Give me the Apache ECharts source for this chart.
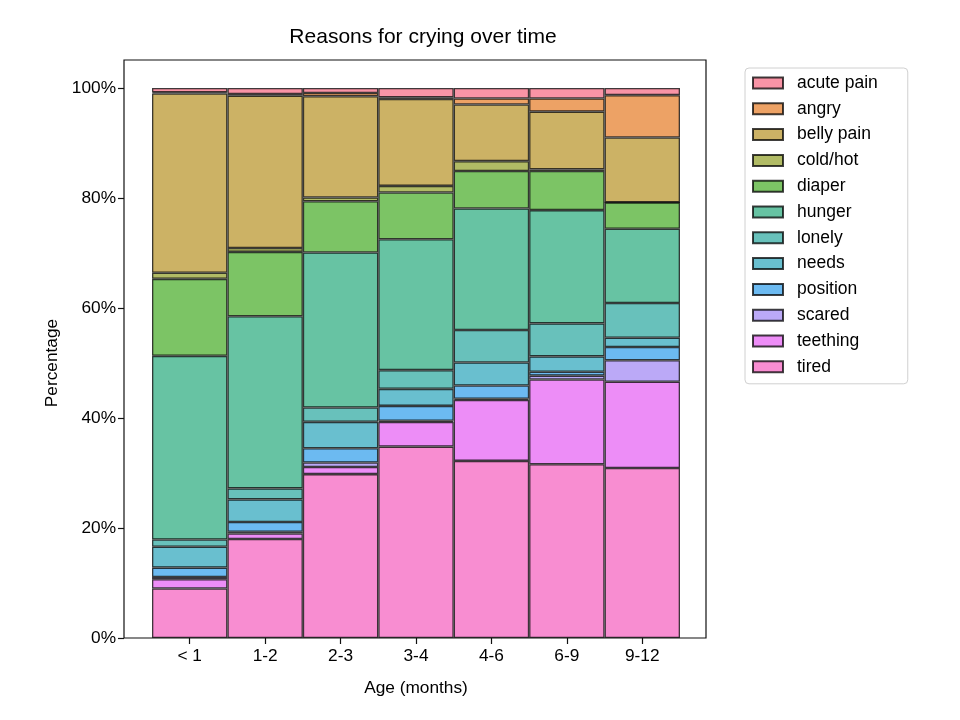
<!DOCTYPE html>
<html>
<head>
<meta charset="utf-8">
<script src="https://cdn.jsdelivr.net/npm/echarts@6/dist/echarts.min.js"></script>
<style>html,body{margin:0;padding:0;background:#fff;}#c{width:960px;height:720px;}</style>
</head>
<body>
<div id="c"></div>
<script>
// ---- data (percent of each age group) ----
const categories = ['< 1', '1-2', '2-3', '3-4', '4-6', '6-9', '9-12'];
const legendOrder = ['acute pain','angry','belly pain','cold/hot','diaper','hunger','lonely','needs','position','scared','teething','tired'];
const tired     = [9.0, 18.0, 29.8, 34.8, 32.2, 31.6, 30.9];
const teething  = [1.7, 1.0, 1.3, 4.5, 11.1, 15.4, 15.7];
const scared    = [0.4, 0.3, 0.8, 0.2, 0.2, 0.7, 3.9];
const position  = [1.7, 1.8, 2.6, 2.7, 2.4, 0.7, 2.4];
const needs     = [3.8, 4.1, 4.8, 3.1, 4.2, 2.8, 1.7];
const lonely    = [1.3, 2.0, 2.6, 3.4, 5.9, 6.0, 6.3];
const hunger    = [33.4, 31.3, 28.2, 23.8, 22.1, 20.6, 13.5];
const diaper    = [14.0, 11.7, 9.3, 8.5, 6.8, 7.1, 4.8];
const coldHot   = [1.1, 0.7, 0.7, 1.2, 1.8, 0.3, 0.0];
const bellyPain = [32.6, 27.7, 18.4, 15.8, 10.3, 10.5, 11.8];
const angry     = [0.2, 0.3, 0.6, 0.3, 1.1, 2.4, 7.7];
const acutePain = [0.8, 1.1, 0.9, 1.7, 1.9, 1.9, 1.3];
const yTicks = [0, 20, 40, 60, 80, 100];

const valuesByName = {
  'acute pain': acutePain, 'angry': angry, 'belly pain': bellyPain, 'cold/hot': coldHot,
  'diaper': diaper, 'hunger': hunger, 'lonely': lonely, 'needs': needs,
  'position': position, 'scared': scared, 'teething': teething, 'tired': tired
};

// ---- husl palette (seaborn style) ----
function huslToRgb(H, S, L) {
  const m = [[3.240969941904521,-1.537383177570093,-0.498610760293],
             [-0.96924363628087,1.87596750150772,0.041555057407175],
             [0.055630079696993,-0.20397695888897,1.056971514242878]];
  const kappa = 903.2962962962963, eps = 0.0088564516790356308;
  const refU = 0.19783000664283681, refV = 0.468319994938791;
  const sub1 = Math.pow(L + 16, 3) / 1560896;
  const sub2 = sub1 > eps ? sub1 : L / kappa;
  const hrad = H / 360 * 2 * Math.PI;
  let maxC = Infinity;
  for (let c = 0; c < 3; c++) {
    const [m1, m2, m3] = m[c];
    for (let t = 0; t < 2; t++) {
      const top1 = (284517 * m1 - 94839 * m3) * sub2;
      const top2 = (838422 * m3 + 769860 * m2 + 731718 * m1) * L * sub2 - 769860 * t * L;
      const bottom = (632260 * m3 - 126452 * m2) * sub2 + 126452 * t;
      const slope = top1 / bottom, inter = top2 / bottom;
      const len = inter / (Math.sin(hrad) - slope * Math.cos(hrad));
      if (len >= 0) maxC = Math.min(maxC, len);
    }
  }
  const C = maxC / 100 * S;
  const U = C * Math.cos(hrad), V = C * Math.sin(hrad);
  const varU = U / (13 * L) + refU, varV = V / (13 * L) + refV;
  const Y = L <= 8 ? L / kappa : Math.pow((L + 16) / 116, 3);
  const X = 0 - (9 * Y * varU) / ((varU - 4) * varV - varU * varV);
  const Z = (9 * Y - 15 * varV * Y - varV * X) / (3 * varV);
  return m.map(r => {
    const v = r[0] * X + r[1] * Y + r[2] * Z;
    const s = v <= 0.0031308 ? 12.92 * v : 1.055 * Math.pow(v, 1 / 2.4) - 0.055;
    return Math.min(1, Math.max(0, s));
  });
}
function paletteColor(i, n) {
  const h = (((i / n) + 0.01) % 1) * 359;
  const rgb = huslToRgb(h, 0.9 * 99, 0.65 * 99);
  const a = 0.75;
  const b = rgb.map(v => Math.round(a * v * 255 + (1 - a) * 255));
  return 'rgb(' + b.join(',') + ')';
}

const FONT = 'Liberation Sans, Arial, sans-serif';
const stackOrder = legendOrder.slice().reverse(); // tired at bottom

const series = stackOrder.map(name => ({
  name: name,
  type: 'bar',
  stack: 'total',
  xAxisIndex: 0,
  yAxisIndex: 0,
  barWidth: '100%',
  barCategoryGap: 0,
  data: valuesByName[name],
  itemStyle: {
    color: paletteColor(legendOrder.indexOf(name), legendOrder.length),
    borderColor: 'rgba(0,0,0,0.75)',
    borderWidth: 1.3
  },
  emphasis: { disabled: true },
  animation: false
}));

const chart = echarts.init(document.getElementById('c'), null, { renderer: 'canvas' });
chart.setOption({
  animation: false,
  backgroundColor: '#fff',
  title: {
    text: 'Reasons for crying over time',
    left: 418, top: 22, textAlign: 'center',
    textStyle: { fontFamily: FONT, fontSize: 21, fontWeight: 'normal', color: '#000' }
  },
  grid: [
    { left: 152, width: 528, top: 88, height: 550, show: false },
    { left: 124, width: 582, top: 60, height: 578, show: true, borderColor: '#111', borderWidth: 1.2, backgroundColor: 'transparent', z: 10 }
  ],
  xAxis: [
    {
      type: 'category', gridIndex: 0, data: categories,
      axisLine: { show: false },
      axisTick: { show: true, alignWithLabel: true, length: 6, lineStyle: { color: '#111', width: 1.2 } },
      axisLabel: { fontFamily: FONT, fontSize: 17.3, color: '#000', margin: 10 },
      name: 'Age (months)', nameLocation: 'middle', nameGap: 42,
      nameTextStyle: { fontFamily: FONT, fontSize: 17.3, color: '#000' },
      splitLine: { show: false }
    },
    { type: 'value', gridIndex: 1, show: false, min: 0, max: 1 }
  ],
  yAxis: [
    {
      type: 'value', gridIndex: 0, min: 0, max: 100, interval: 20, offset: 28,
      axisLine: { show: false },
      axisTick: { show: true, length: 6, lineStyle: { color: '#111', width: 1.2 } },
      axisLabel: { fontFamily: FONT, fontSize: 17.3, color: '#000', margin: 8,
        formatter: v => (yTicks.indexOf(v) >= 0 ? v + '%' : '') },
      splitLine: { show: false },
      name: 'Percentage', nameLocation: 'middle', nameGap: 56, nameRotate: 90,
      nameTextStyle: { fontFamily: FONT, fontSize: 17.3, color: '#000' }
    },
    { type: 'value', gridIndex: 1, show: false, min: 0, max: 1 }
  ],
  legend: {
    orient: 'vertical',
    left: 745, top: 68,
    padding: [6, 30, 8, 7],
    data: legendOrder,
    icon: 'rect',
    itemWidth: 30, itemHeight: 11,
    itemGap: 7.8,
    selectedMode: false,
    backgroundColor: '#fff',
    borderColor: '#d0d0d0', borderWidth: 1, borderRadius: 4,
    textStyle: { fontFamily: FONT, fontSize: 17.5, color: '#000', lineHeight: 17, padding: [0, 0, 0, 9] }
  },
  series: series
});
</script>
</body>
</html>
